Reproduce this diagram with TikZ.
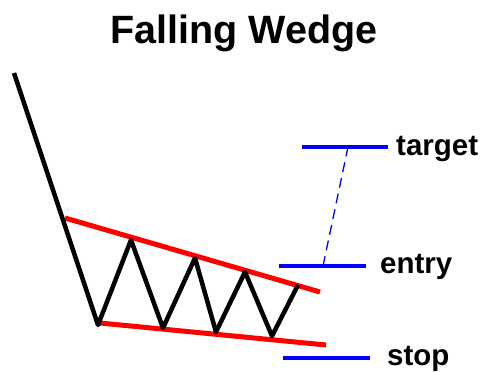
\documentclass[tikz,border=0pt]{standalone}
\usepackage{fontspec}
\setmainfont{Liberation Sans}
\usepackage{xcolor}
\usetikzlibrary{positioning, calc}

\definecolor{wedgered}{RGB}{255,0,0}
\definecolor{levelblue}{RGB}{0,0,255}

\begin{document}
\begin{tikzpicture}[x=1pt, y=-1pt, line join=round,
    price/.style={line width=4.5pt, black},
    trendline/.style={line width=5pt, wedgered},
    level/.style={line width=4pt, levelblue},
    lvllabel/.style={font=\fontsize{29.5}{30}\selectfont\bfseries, anchor=base west, inner sep=0pt}]
  \useasboundingbox (0,0) rectangle (483,372);

  % Title
  \node[font=\fontsize{39.5}{40}\selectfont\bfseries, anchor=base, inner sep=0pt] (title) at (244,43) {Falling Wedge};

  % Price path points
  \foreach \n/\x/\y in {p0/14/73, p1/98/325, p2/131/240, p3/163/328, p4/195/258,
                        p5/216/332, p6/245/272, p7/272/336, p8/298/285} {
    \coordinate (\n) at (\x,\y);
  }

  % Wedge lines
  \coordinate (upA) at (65,218);
  \coordinate (upB) at (320,292);
  \coordinate (loA) at (100,323);
  \coordinate (loB) at (326,345);
  \draw[trendline] (upA) -- (upB);
  \draw[trendline] (loA) -- (loB);

  % Price
  \draw[price] (p0) -- (p1) -- (p2) -- (p3) -- (p4) -- (p5) -- (p6) -- (p7) -- (p8);

  % Levels
  \foreach \lv/\xa/\xb/\y in {target/302/388/147, entry/279/366/266, stop/283/370/358} {
    \coordinate (\lv-l) at (\xa,\y);
    \coordinate (\lv-r) at (\xb,\y);
    \draw[level] (\lv-l) -- (\lv-r);
  }
  \node[lvllabel] (target) at (396,155) {target};
  \node[lvllabel] (entry) at (380,273) {entry};
  \node[lvllabel] (stop) at (387,365) {stop};

  % Move from entry to target
  \coordinate (tgt) at (348,147);
  \coordinate (ent) at (323,266);
  \draw[levelblue, line width=1.3pt, dash pattern=on 10pt off 6pt] (ent) -- (tgt);
\end{tikzpicture}
\end{document}
